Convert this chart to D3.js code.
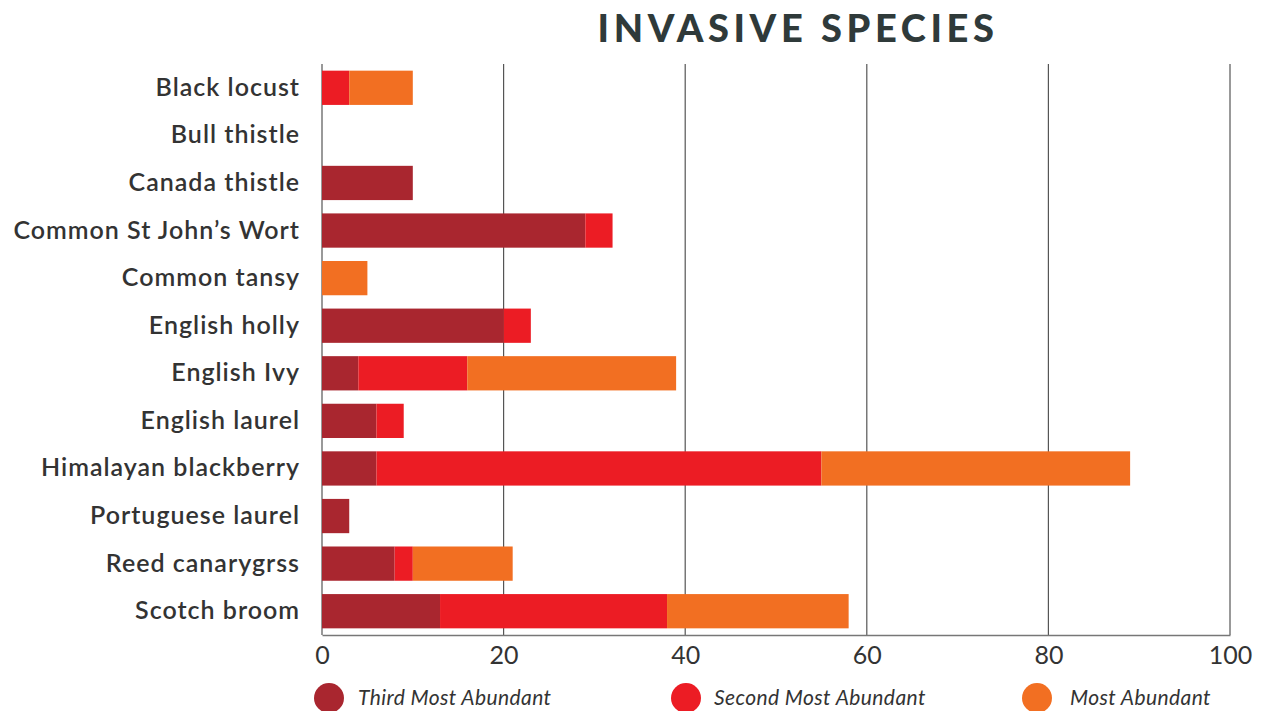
<!DOCTYPE html>
<html>
<head>
<meta charset="utf-8">
<script src="https://cdn.jsdelivr.net/npm/d3@7"></script>
<style>
  html, body { margin: 0; padding: 0; background: #fff; }
  svg { display: block; }
</style>
</head>
<body>
<svg id="chart" width="1270" height="711"></svg>
<script>
// Invasive species counts, stacked by abundance rank
const species = [
  "Black locust", "Bull thistle", "Canada thistle", "Common St John\u2019s Wort",
  "Common tansy", "English holly", "English Ivy", "English laurel",
  "Himalayan blackberry", "Portuguese laurel", "Reed canarygrss", "Scotch broom"
];
const thirdMost  = [0, 0, 10, 29, 0, 20, 4, 6, 6, 3, 8, 13];
const secondMost = [3, 0, 0, 3, 0, 3, 12, 3, 49, 0, 2, 25];
const mostAbund  = [7, 0, 0, 0, 5, 0, 23, 0, 34, 0, 11, 20];
const seriesNames = ["Third Most Abundant", "Second Most Abundant", "Most Abundant"];
const seriesColors = ["#a9262f", "#ec1c24", "#f26f22"];
const xTicks = [0, 20, 40, 60, 80, 100];

const rows = species.map((s, i) => ({
  species: s,
  [seriesNames[0]]: thirdMost[i],
  [seriesNames[1]]: secondMost[i],
  [seriesNames[2]]: mostAbund[i]
}));

const svg = d3.select("#chart");
const font = "Lato, 'Open Sans', sans-serif";
const margin = { left: 322, right: 40, top: 64, bottom: 76 };
const W = 1270, H = 711;

const x = d3.scaleLinear().domain([0, 100]).range([margin.left, W - margin.right]);
const y = d3.scaleBand().domain(species).range([margin.top, H - margin.bottom]).paddingInner(0.28).paddingOuter(0.14);

// Title
svg.append("text")
  .attr("x", 798).attr("y", 42)
  .attr("text-anchor", "middle")
  .attr("font-family", font)
  .attr("font-weight", 900)
  .attr("font-size", 38)
  .attr("letter-spacing", 4.6)
  .attr("fill", "#2f3a3a")
  .text("INVASIVE SPECIES");

// Vertical gridlines
svg.append("g").selectAll("line")
  .data(xTicks)
  .join("line")
  .attr("x1", d => x(d)).attr("x2", d => x(d))
  .attr("y1", margin.top).attr("y2", H - margin.bottom)
  .attr("stroke", "#555").attr("stroke-width", 1.2);

// Stacked bars
const stack = d3.stack().keys(seriesNames)(rows);
svg.append("g").selectAll("g")
  .data(stack)
  .join("g")
  .attr("fill", (d, i) => seriesColors[i])
  .selectAll("rect")
  .data(d => d)
  .join("rect")
  .attr("x", d => x(d[0]))
  .attr("y", d => y(d.data.species))
  .attr("width", d => x(d[1]) - x(d[0]))
  .attr("height", y.bandwidth());

// Bottom axis
const xAxis = svg.append("g")
  .attr("transform", `translate(0,${H - margin.bottom})`)
  .call(d3.axisBottom(x).tickValues(xTicks).tickSize(0).tickPadding(11));
xAxis.select(".domain").attr("stroke", "#777").attr("stroke-width", 1.5);
xAxis.selectAll("text")
  .attr("font-family", font)
  .attr("font-size", 25)
  .attr("fill", "#333");

// Category labels
const yAxis = svg.append("g")
  .attr("transform", `translate(${margin.left},0)`)
  .call(d3.axisLeft(y).tickSize(0).tickPadding(22));
yAxis.select(".domain").remove();
yAxis.selectAll("text")
  .attr("font-family", font)
  .attr("font-weight", 600)
  .attr("font-size", 25)
  .attr("letter-spacing", 1)
  .attr("fill", "#333");

// Legend
const legendX = [329, 686, 1037];
const legendTextDx = [29, 28, 33];
const legend = svg.append("g").selectAll("g")
  .data(seriesNames)
  .join("g")
  .attr("transform", (d, i) => `translate(${legendX[i]},698)`);
legend.append("circle")
  .attr("r", 15)
  .attr("fill", (d, i) => seriesColors[i]);
legend.append("text")
  .attr("x", (d, i) => legendTextDx[i]).attr("y", 7)
  .attr("font-family", font)
  .attr("font-style", "italic")
  .attr("font-size", 21)
  .attr("letter-spacing", 0.4)
  .attr("fill", "#333")
  .text(d => d);
</script>
</body>
</html>
